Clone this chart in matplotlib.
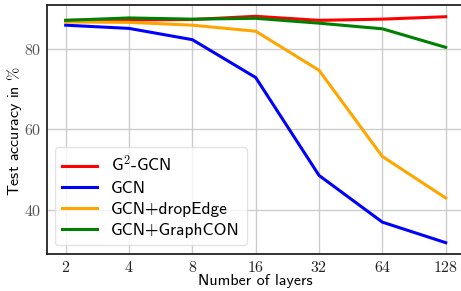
import matplotlib
matplotlib.use("Agg")
import matplotlib.pyplot as plt

layers = [2, 4, 8, 16, 32, 64, 128]
g2gcn = [87.0, 87.1, 87.2, 88.0, 87.0, 87.3, 87.9]
gcn = [85.8, 85.0, 82.2, 72.8, 48.5, 36.9, 31.8]
dropedge = [86.6, 86.5, 85.8, 84.3, 74.6, 53.2, 42.9]
graphcon = [87.0, 87.6, 87.3, 87.5, 86.3, 84.9, 80.3]
yticks = [40, 60, 80]

plt.rcParams['mathtext.fontset'] = 'cm'
plt.rcParams['font.family'] = ['cmss10', 'DejaVu Sans']
plt.rcParams['axes.unicode_minus'] = False

fig = plt.figure(figsize=(4.61, 2.91), dpi=100)
ax = fig.add_axes([46.7/461, 37/291, 418/461, 249/291])

ax.plot(layers, g2gcn, color='red', lw=2.2, label=r'G$^2$-GCN')
ax.plot(layers, gcn, color='blue', lw=2.2, label='GCN')
ax.plot(layers, dropedge, color='orange', lw=2.2, label='GCN+dropEdge')
ax.plot(layers, graphcon, color='green', lw=2.2, label='GCN+GraphCON')

ax.set_xscale('log', base=2)
ax.set_xticks(layers)
ax.set_xticklabels([f'${v}$' for v in layers], fontsize=11.5, color='#222222')
ax.minorticks_off()
ax.set_yticks(yticks)
ax.set_yticklabels([f'${v}$' for v in yticks], fontsize=11.5, color='#555555')
ax.tick_params(length=0, pad=4)

ax.grid(True, color='#cccccc', lw=1.0)
ax.set_axisbelow(True)
for s in ax.spines.values():
    s.set_color('#222222')
    s.set_linewidth(1.3)

ax.set_xlabel('Number of layers', fontsize=11.5)
ax.set_ylabel(r'Test accuracy in $\%$', fontsize=11.5)
ax.xaxis.set_label_coords(0.498, -0.11)
ax.xaxis.label.set_va('center')
ax.yaxis.set_label_coords(-0.077, 0.494)
ax.yaxis.label.set_va('center')

leg = ax.legend(loc='lower left', fontsize=12.5, frameon=True, fancybox=True,
                borderaxespad=0.5, handlelength=2.0, labelspacing=0.35)
leg.get_frame().set_edgecolor('#dddddd')

fig.savefig('out.png', dpi=100)
